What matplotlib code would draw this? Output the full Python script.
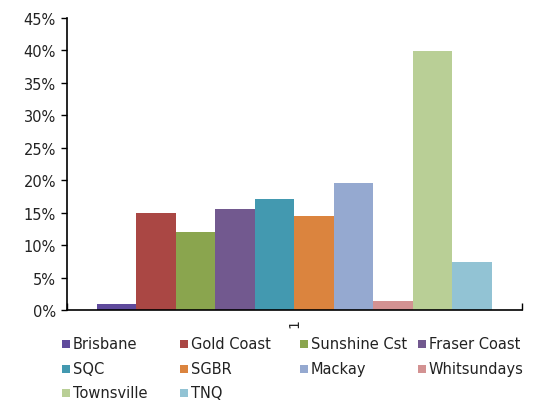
import matplotlib
matplotlib.use("Agg")
import matplotlib.pyplot as plt
from matplotlib.patches import Rectangle
from matplotlib.ticker import FuncFormatter, MultipleLocator

regions = ['Brisbane', 'Gold Coast', 'Sunshine Cst', 'Fraser Coast', 'SQC',
           'SGBR', 'Mackay', 'Whitsundays', 'Townsville', 'TNQ']
shares = [0.9, 14.9, 12.0, 15.6, 17.1, 14.5, 19.6, 1.4, 39.9, 7.4]
colors = ['#5f4a9c', '#aa4744', '#8aa54e', '#72598f', '#4399b0',
          '#db843e', '#95a9d0', '#d39292', '#b9cf96', '#92c3d4']
category = ['1']

plt.rcParams['font.family'] = ['DejaVu Sans']
W, H = 541, 402
fig = plt.figure(figsize=(W / 100, H / 100), dpi=100)
ax = fig.add_axes([67 / W, 1 - 311 / H, (522 - 67) / W, (311 - 19) / H])

n = len(regions)
width = 0.0868
start = -0.5 + 30 / 455
for i, (v, c) in enumerate(zip(shares, colors)):
    ax.bar(start + i * width, v, width=width, align='edge', color=c, linewidth=0)

ax.set_xlim(-0.5, 0.5)
ax.set_ylim(0, 45)
ax.yaxis.set_major_locator(MultipleLocator(5))
ax.yaxis.set_major_formatter(FuncFormatter(lambda v, p: f'{v:.0f}%'))
ax.set_xticks([0])
ax.set_xticklabels(category, rotation=90)
ax.set_xticks([-0.5, 0.5], minor=True)
ax.tick_params(axis='x', which='major', length=0, pad=6, labelsize=10, colors='#222222')
ax.tick_params(axis='x', which='minor', direction='in', length=5, width=1)
ax.tick_params(axis='y', length=4, width=1, direction='out', pad=4,
               labelsize=10.5, colors='#222222')
ax.tick_params(axis='y', colors='black', labelcolor='#222222')
for s in ['top', 'right']:
    ax.spines[s].set_visible(False)
for s in ['left', 'bottom']:
    ax.spines[s].set_linewidth(1.2)

# legend laid out in a fixed 4-column grid
col_x = [62, 180, 300, 418]
row_y = [345, 370, 394]
for i, (name, c) in enumerate(zip(regions, colors)):
    x = col_x[i % 4]
    y = row_y[i // 4]
    fig.add_artist(Rectangle((x / W, 1 - (y + 4) / H), 8 / W, 8 / H,
                             transform=fig.transFigure, color=c, linewidth=0))
    fig.text((x + 11) / W, 1 - y / H, name, fontsize=10.5, va='center', ha='left',
             color='#222222')

fig.savefig('out.png', dpi=100)
